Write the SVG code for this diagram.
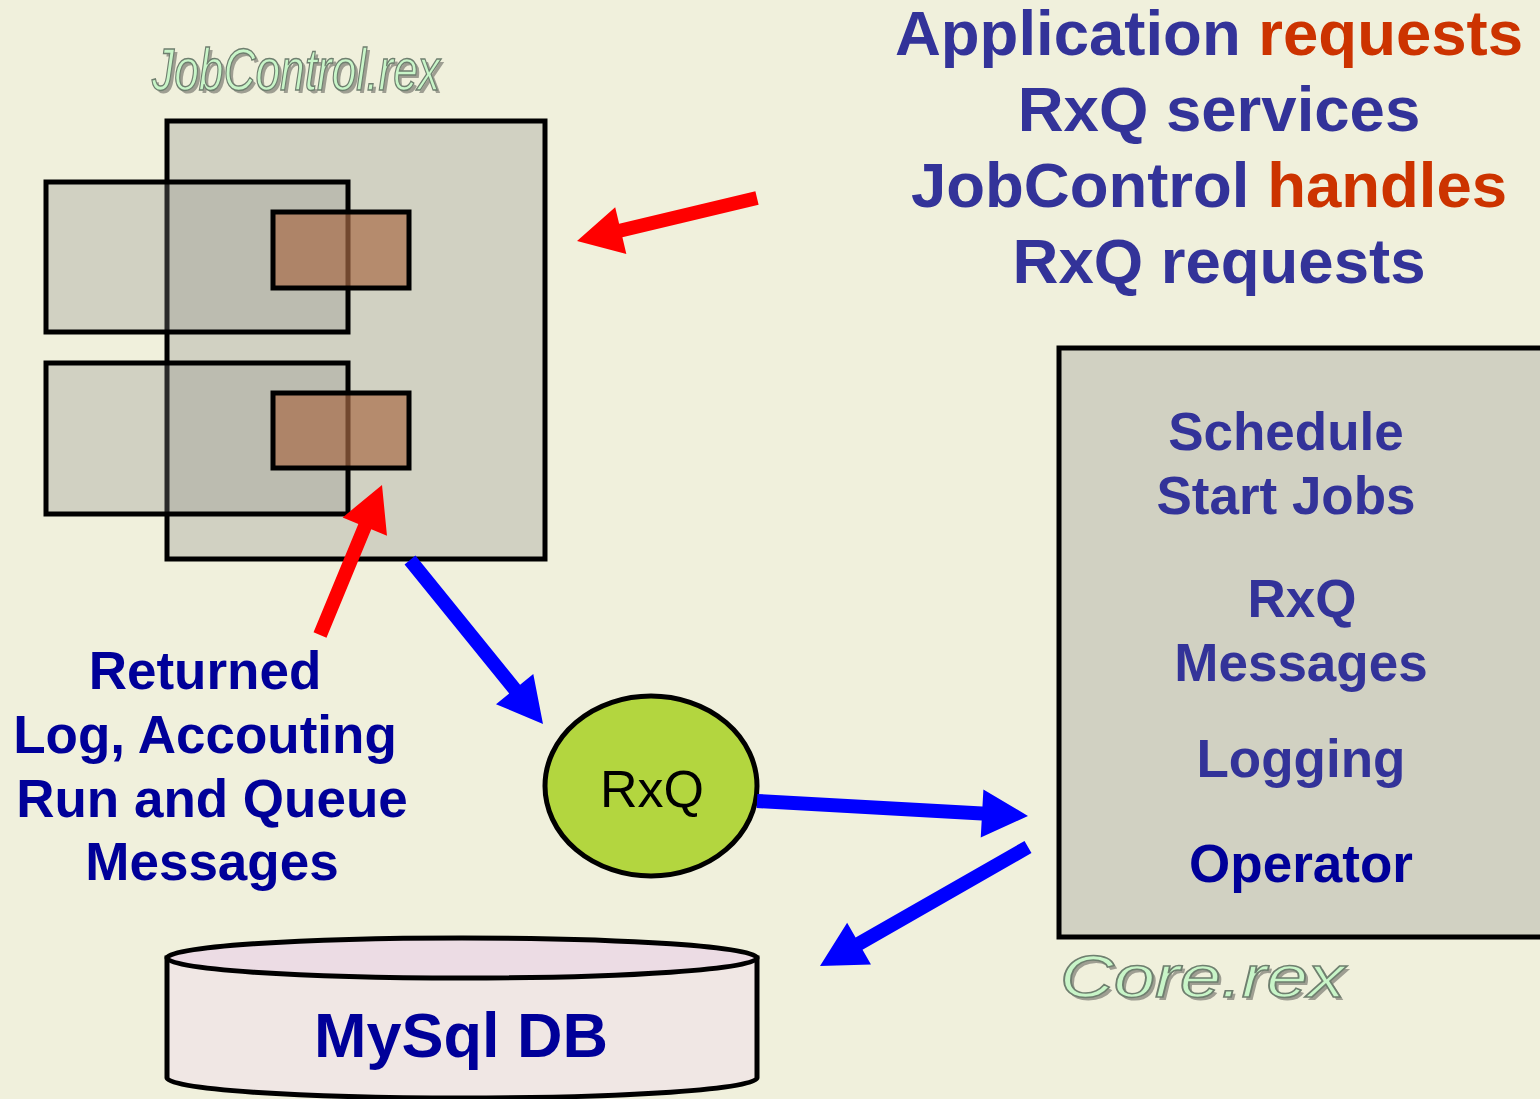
<svg xmlns="http://www.w3.org/2000/svg" width="1540" height="1099" viewBox="0 0 1540 1099">
<style>
.box{fill:#8c8c88;fill-opacity:0.3;stroke:#000;stroke-width:5}
.brown{fill:#a86a45;fill-opacity:0.68;stroke:#000;stroke-width:5}
.t{font-family:"Liberation Sans",Arial,Helvetica,sans-serif;font-weight:bold;text-anchor:middle}
.blue{fill:#333399}
.navy{fill:#000099}
.red{fill:#CC3300}
.logo{font-family:"Liberation Sans",Arial,Helvetica,sans-serif;font-style:italic}
.logof{fill:#c8f5c8;stroke:#6f7f6f;stroke-width:1.5}
.logos{fill:#8a8a80;opacity:0.8}
.ar{fill:#ff0000}
.ab{fill:#0000ff}
</style>
<rect x="0" y="0" width="1540" height="1099" fill="#F0F0DC"/>

<g id="title">
<text class="t" x="1209" y="55" font-size="63.5"><tspan class="blue">Application </tspan><tspan class="red">requests</tspan></text>
<text class="t blue" x="1219" y="131" font-size="63.5">RxQ services</text>
<text class="t" x="1209" y="207" font-size="63.5"><tspan class="blue">JobControl </tspan><tspan class="red">handles</tspan></text>
<text class="t blue" x="1219" y="283" font-size="63.5">RxQ requests</text>
</g>

<g id="jobcontrol">
<rect class="box" x="167" y="121" width="378" height="438"/>
<rect class="box" x="46" y="182" width="302" height="150"/>
<rect class="box" x="46" y="363" width="302" height="151"/>
<rect class="brown" x="273" y="212" width="136" height="76"/>
<rect class="brown" x="273" y="393" width="136" height="75"/>
<text class="logo logos" x="155" y="93" font-size="60" textLength="288" lengthAdjust="spacingAndGlyphs">JobControl.rex</text>
<text class="logo logof" x="152" y="90" font-size="60" textLength="288" lengthAdjust="spacingAndGlyphs">JobControl.rex</text>
</g>

<g id="core">
<rect class="box" x="1059" y="348" width="490" height="589"/>
<text class="t blue" x="1286" y="450" font-size="53">Schedule</text>
<text class="t blue" x="1286" y="514" font-size="53">Start Jobs</text>
<text class="t blue" x="1302" y="617" font-size="53">RxQ</text>
<text class="t blue" x="1301" y="681" font-size="53">Messages</text>
<text class="t blue" x="1301" y="777" font-size="53">Logging</text>
<text class="t navy" x="1301" y="882" font-size="53">Operator</text>
<text class="logo logos" x="1063" y="1000" font-size="59" textLength="285" lengthAdjust="spacingAndGlyphs">Core.rex</text>
<text class="logo logof" x="1060" y="997" font-size="59" textLength="285" lengthAdjust="spacingAndGlyphs">Core.rex</text>
</g>

<g id="rxq">
<ellipse cx="651" cy="786" rx="106" ry="90" fill="#b3d63f" stroke="#000" stroke-width="5"/>
<text x="652" y="807" font-size="52" text-anchor="middle" font-family="Liberation Sans, Arial, sans-serif" fill="#000">RxQ</text>
</g>

<g id="mysql">
<path d="M167,958 L167,1078 A295,20 0 0 0 757,1078 L757,958 Z" fill="#efe6e4" fill-opacity="0.9" stroke="#000" stroke-width="5"/>
<ellipse cx="462" cy="958" rx="295" ry="20" fill="#ecdce4" stroke="#000" stroke-width="5"/>
<text class="t navy" x="461" y="1057" font-size="63">MySql DB</text>
</g>

<g id="returned-label">
<text class="t navy" x="205" y="689" font-size="53">Returned</text>
<text class="t navy" x="205" y="753" font-size="53">Log, Accouting</text>
<text class="t navy" x="212" y="817" font-size="53">Run and Queue</text>
<text class="t navy" x="212" y="880" font-size="53">Messages</text>
</g>

<g id="connectors">
<polygon class="ar" points="755.37,191.19 619.14,223.74 615.19,207.21 577,241 626.35,253.89 622.40,237.36 758.63,204.81"/>
<polygon class="ar" points="326.47,637.67 371.28,529.25 386.99,535.75 382,485 342.63,517.41 358.34,523.91 313.53,632.33"/>
<polygon class="ab" points="404.56,564.41 509.21,693.46 496.01,704.17 543,724 533.29,673.93 520.09,684.64 415.44,555.59"/>
<polygon class="ab" points="756.61,808.0 981.68,820.45 980.74,837.42 1028,816 983.40,789.50 982.46,806.47 757.39,794.0"/>
<polygon class="ab" points="1024.52,840.92 855.58,937.57 847.14,922.82 820,966 870.98,964.48 862.54,949.73 1031.48,853.08"/>
</g>
</svg>
